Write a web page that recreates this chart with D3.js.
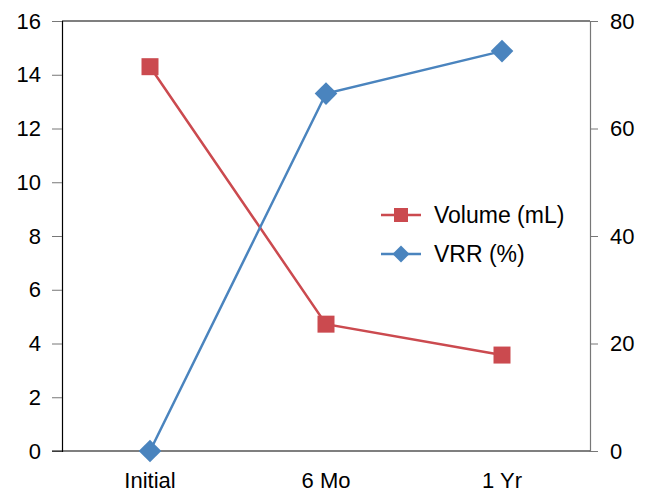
<!DOCTYPE html>
<html><head><meta charset="utf-8">
<script src="https://cdn.jsdelivr.net/npm/d3@7"></script>
<style>body{margin:0;background:#fff}svg{display:block}text{font-family:"Liberation Sans",Arial,sans-serif}</style>
</head><body><svg id="c" width="649" height="494"></svg>
<script>
const categories = ["Initial", "6 Mo", "1 Yr"];
const volume = [14.3, 4.72, 3.57];
const vrr = [0, 66.5, 74.4];
const leftTicks = [0, 2, 4, 6, 8, 10, 12, 14, 16];
const rightTicks = [0, 20, 40, 60, 80];
const seriesNames = ["Volume (mL)", "VRR (%)"];

const red = "#cb4a4f", blue = "#4a84be";
const FS = 22;
const m = {l: 62, r: 590, t: 21, b: 451};
const svg = d3.select("#c");
const x = d3.scaleBand().domain(categories).range([m.l, m.r]).padding(0);
const yL = d3.scaleLinear().domain([0, 16]).range([m.b, m.t]);
const yR = d3.scaleLinear().domain([0, 80]).range([m.b, m.t]);

svg.append("line").attr("x1", m.l).attr("x2", m.r).attr("y1", m.t).attr("y2", m.t).attr("stroke", "#000").attr("stroke-width", 1.2);

const gl = svg.append("g").attr("transform", `translate(${m.l},0)`)
  .call(d3.axisLeft(yL).tickValues(leftTicks).tickSize(10).tickPadding(11));
gl.select(".domain").attr("stroke", "#000").attr("stroke-width", 1.2);
gl.selectAll(".tick line").attr("stroke", "#777");
gl.selectAll("text").attr("font-size", FS).attr("fill", "#000").attr("font-family", '"Liberation Sans",Arial,sans-serif');

const gr = svg.append("g").attr("transform", `translate(${m.r},0)`)
  .call(d3.axisRight(yR).tickValues(rightTicks).tickSize(8).tickPadding(12));
gr.select(".domain").attr("stroke", "#777").attr("stroke-width", 1.2);
gr.selectAll(".tick line").attr("stroke", "#777");
gr.selectAll("text").attr("font-size", FS).attr("fill", "#000").attr("font-family", '"Liberation Sans",Arial,sans-serif');

const gb = svg.append("g").attr("transform", `translate(0,${m.b})`)
  .call(d3.axisBottom(x).tickSize(0).tickPadding(21));
gb.select(".domain").remove();
gb.selectAll("text").attr("font-size", FS).attr("fill", "#000").attr("font-family", '"Liberation Sans",Arial,sans-serif');
svg.append("line").attr("x1", 52).attr("x2", m.r).attr("y1", m.b).attr("y2", m.b).attr("stroke", "#000").attr("stroke-width", 1.2);

const cx = d => x(d) + x.bandwidth() / 2;
const lineL = d3.line().x((d, i) => cx(categories[i])).y(d => yL(d));
const lineR = d3.line().x((d, i) => cx(categories[i])).y(d => yR(d));

svg.append("path").attr("d", lineL(volume)).attr("fill", "none").attr("stroke", red).attr("stroke-width", 2.5);
svg.append("path").attr("d", lineR(vrr)).attr("fill", "none").attr("stroke", blue).attr("stroke-width", 2.5);

const sq = d3.symbol().type(d3.symbolSquare).size(17 * 17);
const dm = d3.symbol().type(d3.symbolSquare).size(16 * 16);
svg.selectAll(".sq").data(volume).join("path").attr("d", sq)
  .attr("transform", (d, i) => `translate(${cx(categories[i])},${yL(d)})`).attr("fill", red);
svg.selectAll(".dm").data(vrr).join("path").attr("d", dm)
  .attr("transform", (d, i) => `translate(${cx(categories[i])},${yR(d)}) rotate(45)`).attr("fill", blue);

const leg = [{n: seriesNames[0], c: red, r: 0, y: 215}, {n: seriesNames[1], c: blue, r: 45, y: 254}];
leg.forEach(l => {
  svg.append("line").attr("x1", 381).attr("x2", 421).attr("y1", l.y).attr("y2", l.y).attr("stroke", l.c).attr("stroke-width", 2.5);
  svg.append("path").attr("d", l.r ? d3.symbol().type(d3.symbolSquare).size(12 * 12)() : d3.symbol().type(d3.symbolSquare).size(14 * 14)())
    .attr("transform", `translate(401,${l.y}) rotate(${l.r})`).attr("fill", l.c);
  svg.append("text").attr("x", 434).attr("y", l.y + 8).attr("font-size", 23).text(l.n);
});
</script></body></html>
